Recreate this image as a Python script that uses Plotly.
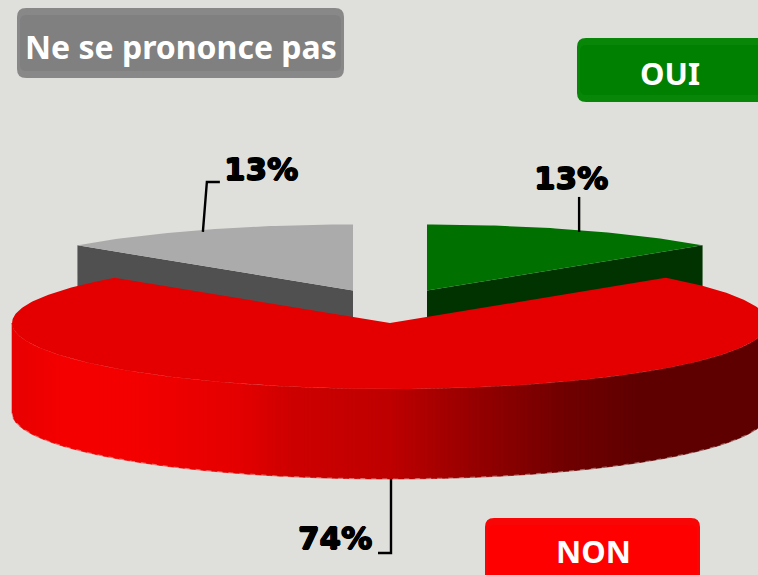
import numpy as np
import plotly.graph_objects as go

# Data
categories = ["OUI", "NON", "Ne se prononce pas"]
shares = [13, 74, 13]
labels = ["13%", "74%", "13%"]

W, H = 758, 575
RX, RY, DEPTH = 378, 66, 90
BG = "#DFE0DB"
TOP = ["#007000", "#E40000", "#ABABAB"]
SIDE = ["#003300", None, "#505050"]
BTN = [("#078607", "#008000"), ("#F80606", "#FF0000"), ("#888888", "#808080")]
CENTER = [(427, 290.5), (390, 323), (353, 290.5)]
BOXES = [(577, 38, 775, 102), (485, 518, 700, 590), (17, 8, 344, 78)]
FONT_BTN = "Noto Sans, Open Sans, sans-serif"
FONT_LAB = "DejaVu Sans, sans-serif"
THICK = "0.8px 0 0 #000,-0.8px 0 0 #000,0 0.8px 0 #000,0 -0.8px 0 #000"

# Side-gradient stops of the large slice: (pixel x, red level)
STOP_X = [12, 65, 130, 240, 290, 390, 470, 566, 640, 790]
STOP_R = [232, 245, 244, 228, 206, 190, 152, 112, 95, 95]

total = sum(shares)
ends = np.cumsum(shares) / total * 2 * np.pi
starts = np.concatenate([[0], ends[:-1]])


def rim(i, a):
    cx, cy = CENTER[i]
    return cx + RX * np.sin(a), cy - RY * np.cos(a)


def poly(x, y, color, lw=0):
    return go.Scatter(x=list(x), y=list(y), mode="lines", fill="toself", fillcolor=color,
                      line=dict(color=color, width=lw), hoverinfo="skip", showlegend=False)


fig = go.Figure()

# Small slices: cut face first, then the top
for i in (0, 2):
    cx, cy = CENTER[i]
    outer = starts[i] if i == 2 else ends[i]
    ox, oy = rim(i, outer)
    fig.add_trace(poly([cx, ox, ox, cx, cx], [cy, oy, oy + DEPTH, cy + DEPTH, cy], SIDE[i]))
    a = np.linspace(starts[i], ends[i], 60)
    ax, ay = rim(i, a)
    fig.add_trace(poly(np.r_[cx, ax, cx], np.r_[cy, ay, cy], TOP[i]))

# Large slice: outer wall as vertical strips, shaded along x
cx, cy = CENTER[1]
edges = np.arange(cx - RX, cx + RX + 4, 4.0)
edges[-1] = cx + RX
for xa, xb in zip(edges[:-1], edges[1:]):
    xs = np.linspace(xa, xb, 4)
    ys = cy + RY * np.sqrt(np.clip(1 - ((xs - cx) / RX) ** 2, 0, 1))
    r = int(round(np.interp((xa + xb) / 2, STOP_X, STOP_R)))
    c = f"rgb({r},0,0)"
    fig.add_trace(poly(np.r_[xs, xs[::-1], xs[0]], np.r_[ys, ys[::-1] + DEPTH, ys[0]], c, lw=0.6))

# Dithered lower edge of the wall
ea = np.linspace(np.pi / 2, 3 * np.pi / 2, 300)
ex, ey = rim(1, ea)
fig.add_trace(go.Scatter(x=list(ex), y=list(ey + DEPTH), mode="lines",
                         line=dict(color="rgba(255,255,255,0.35)", width=1.2, dash="5px,6px"),
                         hoverinfo="skip", showlegend=False))

# Large slice: top
a = np.linspace(starts[1], ends[1], 300)
ax, ay = rim(1, a)
fig.add_trace(poly(np.r_[cx, ax, cx], np.r_[cy, ay, cy], TOP[1]))

# Leader lines, anchored at each slice's mid-angle
mid = (starts + ends) / 2
gx, gy = rim(0, mid[0])
nx, ny = rim(1, mid[1])
px, py = rim(2, mid[2])
leaders = [
    ([gx + 2, gx + 2], [gy + 2, gy - 33]),
    ([nx + 1, nx + 1, nx - 12], [ny + DEPTH, ny + DEPTH + 74, ny + DEPTH + 74]),
    ([px, px + 4, px + 17], [py + 2, py - 48, py - 48]),
]
for lx, ly in leaders:
    fig.add_trace(go.Scatter(x=lx, y=ly, mode="lines", line=dict(color="#000000", width=2.4),
                             hoverinfo="skip", showlegend=False))


def rounded(x0, y0, x1, y1, r):
    return (f"M{x0+r},{y0} L{x1-r},{y0} Q{x1},{y0} {x1},{y0+r} L{x1},{y1-r} Q{x1},{y1} {x1-r},{y1} "
            f"L{x0+r},{y1} Q{x0},{y1} {x0},{y1-r} L{x0},{y0+r} Q{x0},{y0} {x0+r},{y0} Z")


shapes = []
for (x0, y0, x1, y1), (rimc, fillc) in zip(BOXES, BTN):
    shapes.append(dict(type="path", path=rounded(x0, y0, x1, y1, 9), fillcolor=rimc,
                       line=dict(width=0), layer="above"))
    shapes.append(dict(type="path", path=rounded(x0 + 3, y0 + 7, x1 - 3, y1 - 7, 6), fillcolor=fillc,
                       line=dict(width=0), layer="above"))

ann = []
btn_pos = [(670, 73, 31), (593, 551, 31), (181, 46, 32)]
for name, (x, y, s) in zip(categories, btn_pos):
    ann.append(dict(x=x, y=y, text=f"<b>{name}</b>", showarrow=False, xanchor="center", yanchor="middle",
                    font=dict(family=FONT_BTN, size=s, color="#FFFFFF")))
lab_pos = [(gx - 6, gy - 52), (nx - 55, ny + DEPTH + 59), (px + 58, py - 61)]
for text, (x, y) in zip(labels, lab_pos):
    ann.append(dict(x=x, y=y, text=f"<b>{text}</b>", showarrow=False, xanchor="center", yanchor="middle",
                    font=dict(family=FONT_LAB, size=31, color="#000000", shadow=THICK)))

fig.update_layout(
    width=W, height=H, margin=dict(l=0, r=0, t=0, b=0), paper_bgcolor=BG, plot_bgcolor=BG,
    xaxis=dict(range=[0, W], visible=False, fixedrange=True),
    yaxis=dict(range=[H, 0], visible=False, fixedrange=True),
    showlegend=False, shapes=shapes, annotations=ann,
)
fig.write_html("out.html", config={"displayModeBar": False},
               post_script="document.body.style.margin='0';document.body.style.overflow='hidden';"
                           "document.body.style.background='" + BG + "';")
